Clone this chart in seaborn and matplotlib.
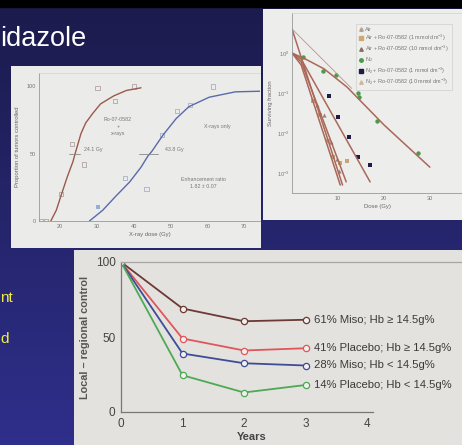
import numpy as np
import matplotlib
matplotlib.use("Agg")
import matplotlib.pyplot as plt
from matplotlib.colors import LinearSegmentedColormap
from matplotlib.lines import Line2D
import seaborn as sns

sns.set_style("white")
plt.rcParams['font.family'] = ['Liberation Sans', 'DejaVu Sans']
plt.rcParams['mathtext.fontset'] = 'custom'
plt.rcParams['mathtext.rm'] = 'Liberation Sans'

# ---- data: panel 1, tumour control vs x-ray dose (sigmoid fits + points)
ro_curve_dose = [17.5, 19, 20.3, 22, 23.5, 24.1, 25.7, 27, 28.9, 31, 34.6, 38, 42]
ro_curve_pct = [0, 8, 19, 33, 44, 50, 65, 73, 80, 87, 93, 97, 99]
xr_curve_dose = [28, 31.6, 35, 38.9, 42, 43.8, 45, 48, 51.5, 55, 60.5, 67.6, 75]
xr_curve_pct = [0, 8, 18, 29, 40, 48, 52, 64, 76, 85, 92, 96, 96.5]
ro_pts_dose = [14.8, 16.2, 20.3, 23.2, 26.5, 30.2, 35, 40]
ro_pts_pct = [0, 0, 20, 57, 42, 99, 89, 100]
xr_pts_dose = [37.6, 43.5, 47.6, 51.8, 55.4, 61.6]
xr_pts_pct = [32, 24, 64, 82, 86, 100]
xr_blue_dose = [30.2]
xr_blue_pct = [10.5]

# ---- data: panel 2, surviving fraction vs dose
air_line_dose = [0, 11]
air_line_sf = [4.0, 0.0005]
air_ro1_line_dose = [0, 2, 10.5]
air_ro1_line_sf = [1.0, 0.5, 0.0005]
air_ro10_line_dose = [0, 2, 11.8]
air_ro10_line_sf = [1.0, 0.6, 0.0006]
n2_ro1_line_dose = [0, 2, 17]
n2_ro1_line_sf = [1.0, 0.7, 0.0006]
n2_line_dose = [0, 3, 7, 12, 20, 30]
n2_line_sf = [1.0, 0.7, 0.4, 0.14, 0.016, 0.0014]
extrap_line_dose = [0, 13]
extrap_line_sf = [4.0, 0.13]

n2_dose = [2.4, 6.7, 9.6, 14.3, 14.5, 18.5, 27.5]
n2_sf = [0.79, 0.35, 0.28, 0.1, 0.08, 0.02, 0.0032]
n2_ro1_dose = [8.1, 10, 12.4, 14.4, 17]
n2_ro1_sf = [0.085, 0.025, 0.008, 0.0025, 0.0016]
air_ro1_dose = [4.6, 6.1, 7.9, 9, 10.4, 12]
air_ro1_sf = [0.063, 0.028, 0.0063, 0.0025, 0.0018, 0.002]
air_dose = [5.5, 7, 8.5, 9.8, 10.3]
air_sf = [0.05, 0.028, 0.006, 0.0022, 0.0011]

legend_labels = ["Air",
                 "Air + Ro-07-0582 (1 mmol dm$^{-3}$)",
                 "Air + Ro-07-0582 (10 mmol dm$^{-3}$)",
                 "N$_2$",
                 "N$_2$ + Ro-07-0582 (1 mmol dm$^{-3}$)",
                 "N$_2$ + Ro-07-0582 (10 mmol dm$^{-3}$)"]

# ---- data: panel 3, local-regional control by year
years = [0, 1, 2, 3]
miso_hi = [100, 69, 60.5, 61.5]
placebo_hi = [100, 49, 41, 42.5]
miso_lo = [100, 39, 32.5, 31]
placebo_lo = [100, 24.5, 13, 18]
series_labels = ["61% Miso; Hb \u2265 14.5g%", "41% Placebo; Hb \u2265 14.5g%",
                 "28% Miso; Hb < 14.5g%", "14% Placebo; Hb < 14.5g%"]
series_colors = ["#6b3a35", "#e0565a", "#3e4c98", "#4caa55"]

W, H = 462, 445


def box(x0, y0, x1, y1):
    return [x0 / W, 1 - y1 / H, (x1 - x0) / W, (y1 - y0) / H]


fig = plt.figure(figsize=(W / 100, H / 100), dpi=100)

# slide background
bg = fig.add_axes([0, 0, 1, 1])
cmap = LinearSegmentedColormap.from_list("slide", ["#1b1b4c", "#2f2f8c"])
bg.imshow(np.linspace(0, 1, 256).reshape(-1, 1), aspect='auto', cmap=cmap,
          extent=[0, 1, 0, 1])
bg.axhspan(1 - 7 / H, 1, color='black')
bg.set_xlim(0, 1)
bg.set_ylim(0, 1)
bg.axis('off')

fig.text(0, 1 - 39 / H, "idazole", color='white', fontsize=19.5, va='center')
fig.text(0.5 / W, 1 - 298 / H, "nt", color='#eeee44', fontsize=11, va='center', ha='left')
fig.text(0.5 / W, 1 - 339 / H, "d", color='#eeee44', fontsize=11, va='center', ha='left')


def panel(rect, color):
    p = fig.add_axes(rect)
    p.set_facecolor(color)
    p.set_xticks([])
    p.set_yticks([])
    for s in p.spines.values():
        s.set_visible(False)
    return p


# ---- panel 1
panel(box(11, 66, 261, 248), '#ebebe9')
ax1 = fig.add_axes(box(39, 73, 260, 221))
ax1.patch.set_alpha(0)
sns.lineplot(x=ro_curve_dose, y=ro_curve_pct, ax=ax1, color='#9a5a4c', lw=1.0)
sns.lineplot(x=xr_curve_dose, y=xr_curve_pct, ax=ax1, color='#5a6aaa', lw=1.0)
sns.scatterplot(x=ro_pts_dose, y=ro_pts_pct, ax=ax1, marker='s', s=9,
                facecolor='none', edgecolor='#b0a4a4', linewidth=0.6)
sns.scatterplot(x=xr_pts_dose, y=xr_pts_pct, ax=ax1, marker='s', s=9,
                facecolor='none', edgecolor='#a8b0c4', linewidth=0.6)
sns.scatterplot(x=xr_blue_dose, y=xr_blue_pct, ax=ax1, marker='s', s=9,
                color='#8fb0d8', linewidth=0)
ax1.plot([22.5, 25.5], [50, 50], color='#888', lw=0.6)
ax1.plot([41.5, 46.5], [50, 50], color='#888', lw=0.6)
ax1.set_xlim(14.3, 74.3)
ax1.set_ylim(0, 110)
ax1.set_xticks([20, 30, 40, 50, 60, 70])
ax1.set_yticks([0, 50, 100])
ax1.tick_params(labelsize=4, colors='#777', length=2, direction='in', pad=2)
for s in ['left', 'bottom']:
    ax1.spines[s].set_color('#999')
    ax1.spines[s].set_linewidth(0.6)
ax1.spines['top'].set_color('#d4d4d4')
ax1.spines['top'].set_linewidth(0.5)
ax1.spines['right'].set_visible(False)
ax1.set_xlabel("X-ray dose (Gy)", fontsize=4.2, color='#666', labelpad=2)
ax1.set_ylabel("Proportion of tumors controlled", fontsize=4.2, color='#666', labelpad=5)
t = dict(fontsize=3.8, color='#777')
ax1.text(35.7, 70, "Ro-07-0582\n+\nx-rays", ha='center', va='center', linespacing=1.5, **t)
ax1.text(26.5, 53, "24.1 Gy", ha='left', va='center', **t)
ax1.text(62.7, 70, "X-rays only", ha='center', va='center', **t)
ax1.text(48.5, 53, "43.8 Gy", ha='left', va='center', **t)
ax1.text(59, 28, "Enhancement ratio\n1.82 \u00b1 0.07", ha='center', va='center',
         linespacing=1.5, **t)

# ---- panel 2
panel(box(263, 9, 462, 220), '#ededeb')
ax2 = fig.add_axes(box(292, 13, 462, 193))
ax2.patch.set_alpha(0)
ax2.set_yscale('log')
line_c = '#a9685a'
for xs, ys in [(air_line_dose, air_line_sf), (air_ro1_line_dose, air_ro1_line_sf),
               (air_ro10_line_dose, air_ro10_line_sf), (n2_ro1_line_dose, n2_ro1_line_sf),
               (n2_line_dose, n2_line_sf)]:
    sns.lineplot(x=xs, y=ys, ax=ax2, color=line_c, lw=1.1)
sns.lineplot(x=extrap_line_dose, y=extrap_line_sf, ax=ax2, color='#c09088', lw=0.6)
sns.scatterplot(x=n2_dose, y=n2_sf, ax=ax2, marker='o', s=10, color='#4a9a4a', linewidth=0)
sns.scatterplot(x=n2_ro1_dose, y=n2_ro1_sf, ax=ax2, marker='s', s=10, color='#1c1c44', linewidth=0)
sns.scatterplot(x=air_ro1_dose, y=air_ro1_sf, ax=ax2, marker='s', s=9, color='#c8a478', linewidth=0)
sns.scatterplot(x=air_dose, y=air_sf, ax=ax2, marker='^', s=9, color='#a08070', linewidth=0)
ax2.set_xlim(0, 37)
ax2.set_ylim(10 ** -3.5, 10 ** 1)
ax2.set_xticks([10, 20, 30])
ax2.set_yticks([1, 0.1, 0.01, 0.001])
ax2.set_yticklabels(["10$^0$", "10$^{-1}$", "10$^{-2}$", "10$^{-3}$"])
ax2.minorticks_off()
ax2.tick_params(labelsize=4, colors='#777', length=2, direction='in', pad=2)
for s in ['left', 'bottom']:
    ax2.spines[s].set_color('#999')
    ax2.spines[s].set_linewidth(0.6)
ax2.spines['top'].set_color('#d0d0d0')
ax2.spines['top'].set_linewidth(0.5)
ax2.spines['right'].set_visible(False)
ax2.set_xlabel("Dose (Gy)", fontsize=4.2, color='#666', labelpad=2)
ax2.set_ylabel("Surviving fraction", fontsize=4.2, color='#666', labelpad=3)
handles = [Line2D([], [], ls='', marker='^', ms=2.5, color='#b4a090'),
           Line2D([], [], ls='', marker='s', ms=2.5, color='#d0a870'),
           Line2D([], [], ls='', marker='^', ms=2.5, color='#8a7060'),
           Line2D([], [], ls='', marker='o', ms=2.5, color='#4a9a4a'),
           Line2D([], [], ls='', marker='s', ms=2.5, color='#1c1c44'),
           Line2D([], [], ls='', marker='^', ms=2.5, color='#d0b898')]
leg = ax2.legend(handles, legend_labels, loc='upper left', bbox_to_anchor=(0.36, 0.955),
                 fontsize=4.0, frameon=True, handlelength=0.8, handletextpad=0.4,
                 labelspacing=0.2, borderpad=0.5, fancybox=False)
leg.get_frame().set_edgecolor('#c8c8c8')
leg.get_frame().set_linewidth(0.5)
leg.get_frame().set_facecolor('#efefed')
for txt in leg.get_texts():
    txt.set_color('#777')

# ---- panel 3
panel(box(74, 250, 462, 445), '#e4e2df')
ax3 = fig.add_axes(box(121, 262, 462, 412))
ax3.patch.set_alpha(0)
for vals, lab, col in zip([miso_hi, placebo_hi, miso_lo, placebo_lo], series_labels, series_colors):
    sns.lineplot(x=years, y=vals, ax=ax3, color=col, lw=1.3, marker='o', markersize=4.5,
                 markerfacecolor='#f2f0ee', markeredgecolor=col, markeredgewidth=0.9)
    ax3.text(3.14, vals[-1], lab, fontsize=8.1, color='#3a3a3a', va='center', ha='left')
ax3.set_xlim(0, (W - 121) / 61.5)
ax3.set_ylim(0, 100)
ax3.set_xticks([0, 1, 2, 3, 4])
ax3.set_yticks([0, 50, 100])
ax3.set_yticks(range(10, 100, 10), minor=True)
ax3.tick_params(axis='both', which='both', direction='in', colors='#555', length=5, width=0.8)
ax3.tick_params(labelsize=8.5, labelcolor='#444', pad=4)
ax3.spines['right'].set_visible(False)
for s in ['left', 'bottom', 'top']:
    ax3.spines[s].set_color('#777')
    ax3.spines[s].set_linewidth(0.9)
ax3.spines['bottom'].set_bounds(0, 4.1)
ax3.spines['top'].set_color('#a8a6a4')
fig.text(85 / W, 1 - 337 / H, "Local \u2013 regional control", rotation=90, fontsize=7.8,
         fontweight='bold', color='#555', ha='center', va='center')
fig.text(252 / W, 1 - 437 / H, "Years", fontsize=8, fontweight='bold', color='#444',
         ha='center', va='center')

fig.savefig("out.png", dpi=100)
